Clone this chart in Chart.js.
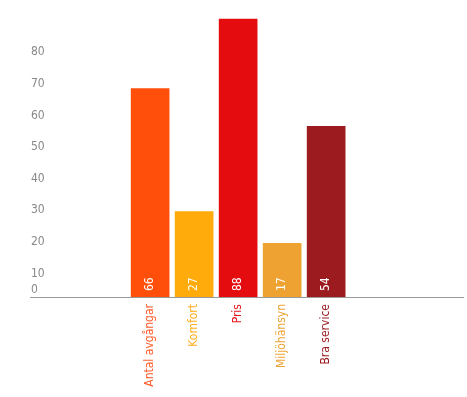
<!DOCTYPE html>
<html>
<head>
<meta charset="utf-8">
<script src="https://cdn.jsdelivr.net/npm/chart.js@4"></script>
<style>
  html,body{margin:0;padding:0;background:#fff;}
  #wrap{width:467px;height:397px;position:relative;}
</style>
</head>
<body>
<div id="wrap"><canvas id="c"></canvas></div>
<script>
// Data
const categories = ['Antal avgångar', 'Komfort', 'Pris', 'Miljöhänsyn', 'Bra service'];
const values = [66, 27, 88, 17, 54];
const barColors = ['#ff4f0a', '#ffab0b', '#e50c10', '#eda232', '#9b1b1e'];
const labelColors = ['#ff5a28', '#ffae1e', '#e5151a', '#eda43a', '#9b1b1e'];
const yTicks = [0, 10, 20, 30, 40, 50, 60, 70, 80];

const FONT = "'Liberation Sans Narrow', 'DejaVu Sans Condensed', 'Roboto', sans-serif";

// y tick labels drawn inside the plot (label top sits at the tick, "0" sits above the axis)
const yLabels = {
  id: 'yLabels',
  afterDraw(chart){
    const {ctx, scales:{y}, chartArea} = chart;
    ctx.save();
    ctx.font = '12px ' + FONT;
    ctx.fillStyle = '#888';
    ctx.textAlign = 'left';
    yTicks.forEach(v=>{
      const py = y.getPixelForValue(v);
      if(v === 0){ ctx.textBaseline = 'bottom'; ctx.fillText(String(v), chartArea.left + 1, py - 1); }
      else { ctx.textBaseline = 'top'; ctx.fillText(String(v), chartArea.left + 1, py + 2); }
    });
    ctx.restore();
  }
};

// value labels inside bars, rotated
const valueLabels = {
  id: 'valueLabels',
  afterDatasetsDraw(chart){
    const {ctx} = chart;
    const meta = chart.getDatasetMeta(0);
    ctx.save();
    ctx.font = '12px ' + FONT;
    ctx.fillStyle = '#fff';
    meta.data.forEach((bar, i)=>{
      ctx.save();
      ctx.translate(bar.x, bar.base - 6);
      ctx.rotate(-Math.PI/2);
      ctx.textAlign = 'left';
      ctx.textBaseline = 'middle';
      ctx.fillText(String(values[i]), 0, 0);
      ctx.restore();
    });
    ctx.restore();
  }
};

new Chart(document.getElementById('c'), {
  type: 'bar',
  data: {
    datasets: [{
      data: values.map((v, i)=>({x: i, y: v})),
      backgroundColor: barColors,
      barThickness: 38
    }]
  },
  options: {
    responsive: true,
    maintainAspectRatio: false,
    animation: false,
    layout: {padding: {left: 30, right: 4, top: 0, bottom: 0}},
    plugins: {legend: {display: false}, tooltip: {enabled: false}},
    scales: {
      x: {
        type: 'linear',
        offset: false,
        min: -2.73,
        max: 7.11,
        afterBuildTicks: s => { s.ticks = categories.map((_, i)=>({value: i})); },
        afterFit: s => { s.height = 100; },
        grid: {display: false, drawTicks: false},
        border: {display: true, color: '#999', width: 1},
        ticks: {
          autoSkip: false,
          minRotation: 90,
          maxRotation: 90,
          padding: 7,
          font: {family: FONT, size: 12},
          color: ctx => labelColors[ctx.index],
          callback: v => categories[v] ?? ''
        }
      },
      y: {
        display: false,
        min: 0,
        max: 94
      }
    }
  },
  plugins: [yLabels, valueLabels]
});
</script>
</body>
</html>
